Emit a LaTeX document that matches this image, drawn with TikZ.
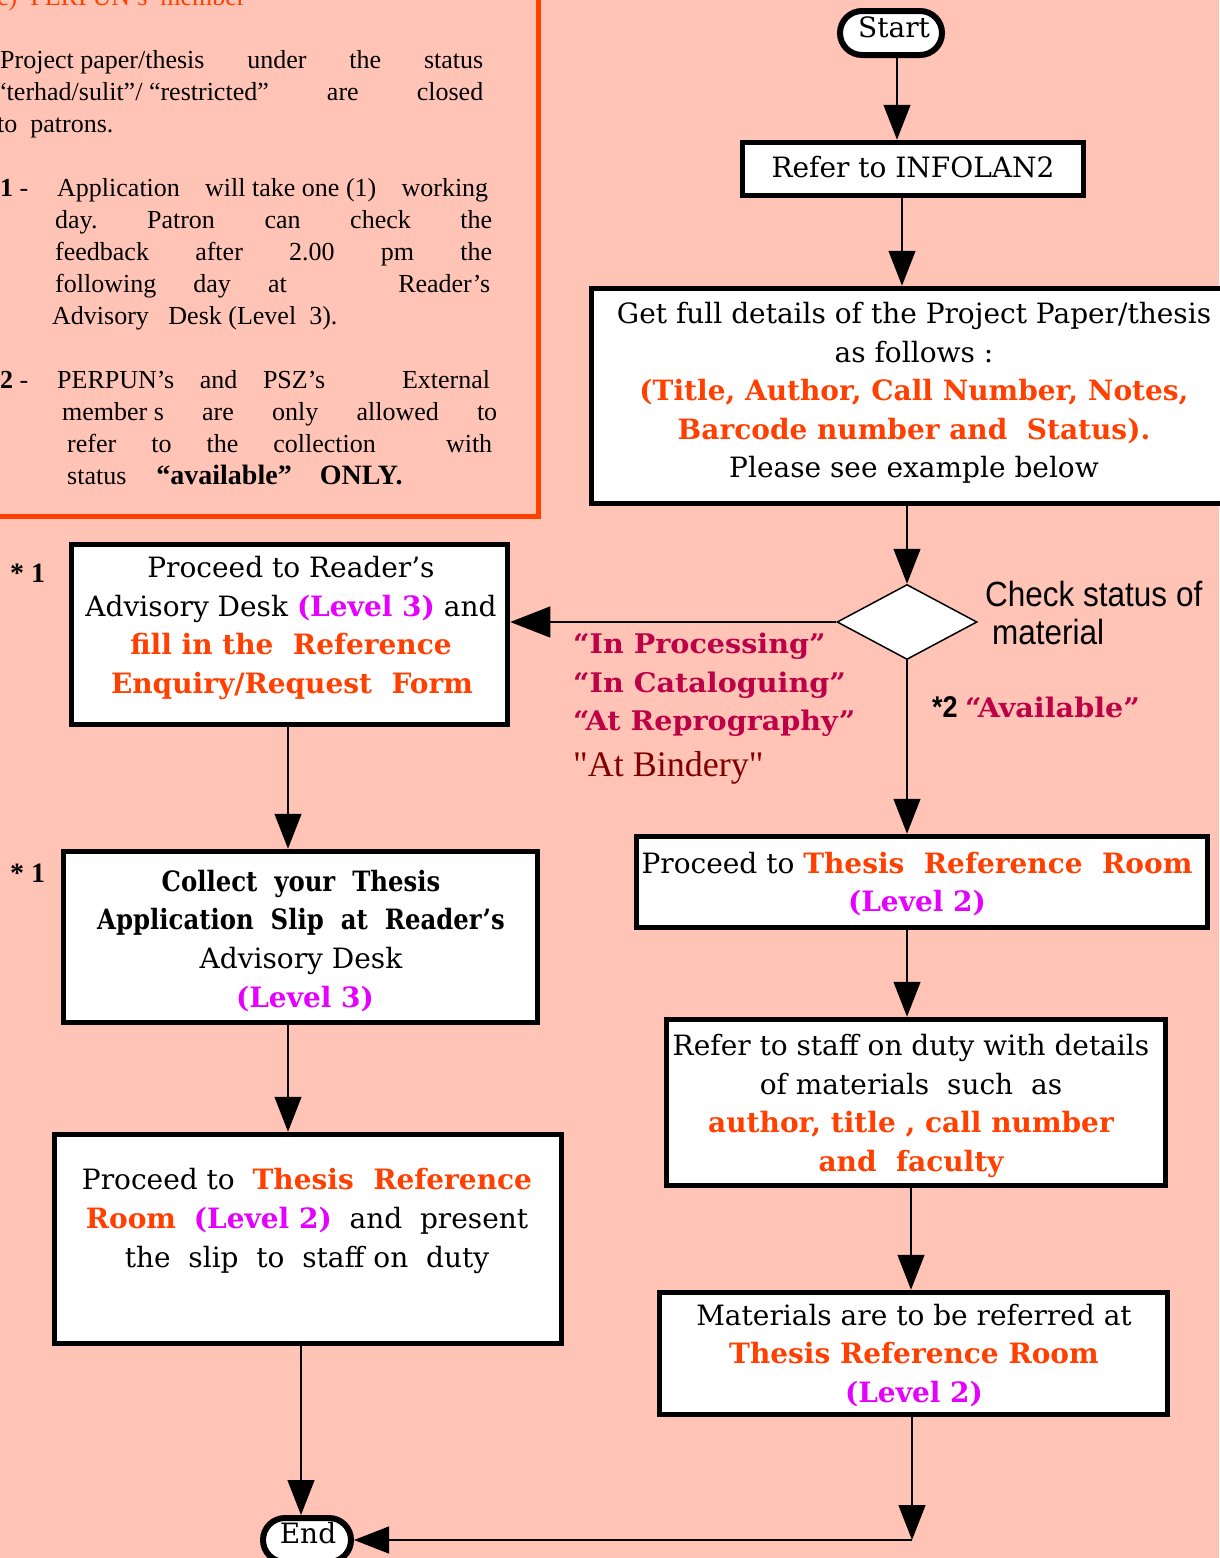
\documentclass[tikz,border=0pt]{standalone}
\usepackage{fontspec}
\usetikzlibrary{arrows.meta,shapes.geometric}
\setmainfont{Liberation Serif}
\newfontfamily\plainserif[Ligatures=ResetAll]{Liberation Serif}
\newfontfamily\slab{DejaVu Serif}
\newfontfamily\slabc[FakeStretch=0.87]{DejaVu Serif}
\newfontfamily\slabw[FakeStretch=1.06]{DejaVu Serif}
\newfontfamily\narrow[FakeStretch=0.9]{Liberation Sans}
\definecolor{bg}{RGB}{255,196,182}
\definecolor{ro}{RGB}{255,64,0}
\definecolor{mg}{RGB}{230,0,255}
\definecolor{cr}{RGB}{190,0,70}
\definecolor{dr}{RGB}{128,0,0}
\newcommand{\redb}[1]{\textcolor{ro}{\bfseries #1}}
\newcommand{\magb}[1]{\textcolor{mg}{\bfseries #1}}
\tikzset{
  box/.style={draw=black,line width=5.5pt,fill=white,inner sep=0pt},
  term/.style={draw=black,line width=6pt,fill=white,inner sep=0pt,rounded corners=22pt},
  dia/.style={diamond,draw=black,line width=1.5pt,fill=white,inner sep=0pt},
  arr/.style={line width=1.3pt,-{Triangle[length=35pt,width=27pt]}},
  bt/.style={anchor=base,inner sep=0pt,font=\fontsize{28}{34}\slab},
  lt/.style={anchor=base west,inner sep=0pt,font=\fontsize{26}{32}\selectfont},
  st/.style={anchor=base west,inner sep=0pt,font=\fontsize{27}{32}\slabw\bfseries,text=cr},
}
\begin{document}
\begin{tikzpicture}[x=1pt,y=-1pt]
\useasboundingbox (0,0) rectangle (1219,1558);
\fill[bg] (0,0) rectangle (1219,1558);
% left info box
\draw[ro,line width=5pt] (-20,-20) rectangle (538,516);
\node[lt,text=ro] (ttl) at (-3,5) {c)\ \ PERPUN’s\ \ member};
\node[lt] (p1) at (0,68) {\hbox to 483pt{Project paper/thesis\hfill under\hfill the\hfill status}};
\node[lt] (p2) at (-5,100) {\hbox to 488pt{“terhad/sulit”/ “restricted”\hfill are\hfill closed}};
\node[lt] (p3) at (-3,132) {to\ \ patrons.};
\node[lt] (n1) at (0,196) {\textbf{1} -};
\node[lt] (a1) at (57,196) {\hbox to 431pt{Application\hfill will take one (1)\hfill working}};
\node[lt] (a2) at (55,228) {\hbox to 437pt{day.\hfill Patron\hfill can\hfill check\hfill the}};
\node[lt] (a3) at (55,260) {\hbox to 437pt{feedback\hfill after\hfill 2.00\hfill pm\hfill the}};
\node[lt] (a4) at (55,292) {\hbox to 435pt{following\hfill day\hfill at\hfill\hfill\hfill Reader’s}};
\node[lt] (a5) at (52,324) {Advisory\ \ \ Desk\ (Level\ \ 3).};
\node[lt] (n2) at (0,388) {\textbf{2} -};
\node[lt] (b1) at (57,388) {\hbox to 433pt{PERPUN’s\hfill and\hfill PSZ’s\hfill\hfill\hfill External}};
\node[lt] (b2) at (62,420) {\hbox to 435pt{member s\hfill are\hfill only\hfill allowed\hfill to}};
\node[lt] (b3) at (67,452) {\hbox to 425pt{refer\hfill to\hfill the\hfill collection\hfill\hfill with}};
\node[lt] (b4) at (67,484) {status\hspace*{30pt}{\fontsize{28}{32}\selectfont\bfseries “available”\hspace*{28pt}ONLY.}};
% right column nodes
\node[term,minimum width=102pt,minimum height=44pt] (start) at (891,33) {};
\node[box,minimum width=341pt,minimum height=53pt] (refer) at (913,169) {};
\node[box,minimum width=631pt,minimum height=215pt] (details) at (907,396) {};
\node[dia,minimum width=140pt,minimum height=75pt] (chk) at (907,622) {};
\node[box,minimum width=571pt,minimum height=91pt] (roomR) at (922,882) {};
\node[box,minimum width=499pt,minimum height=166pt] (staff) at (916,1102.5) {};
\node[box,minimum width=508pt,minimum height=122pt] (mats) at (913.5,1353.5) {};
% left column nodes
\node[box,minimum width=436pt,minimum height=180pt] (desk) at (289.5,634.5) {};
\node[box,minimum width=474pt,minimum height=171pt] (slip) at (300.5,937) {};
\node[box,minimum width=507pt,minimum height=209pt] (roomL) at (308,1239) {};
\node[term,minimum width=88pt,minimum height=44pt] (end) at (307,1540) {};
% column coordinates
\coordinate (c1) at (897,0);
\coordinate (c2) at (902,0);
\coordinate (c3) at (907,0);
\coordinate (c4) at (911,0);
\coordinate (c5) at (912,0);
\coordinate (cL) at (288,0);
\coordinate (cE) at (301,0);
\coordinate (corner) at (912,1540);
% connectors
\draw[arr] (start.south -| c1) -- (refer.north -| c1);
\draw[arr] (refer.south -| c2) -- (details.north -| c2);
\draw[arr] (details.south -| c3) -- (chk.north);
\draw[arr,-{Triangle[length=40pt,width=31pt]}] (chk.west) -- (desk.east |- chk.west);
\draw[arr] (chk.south) -- (roomR.north -| c3);
\draw[arr] (roomR.south -| c3) -- (staff.north -| c3);
\draw[arr] (staff.south -| c4) -- (mats.north -| c4);
\draw[arr] (mats.south -| c5) -- (corner);
\draw[arr] (corner) -- (end.east);
\draw[arr] (desk.south -| cL) -- (slip.north -| cL);
\draw[arr] (slip.south -| cL) -- (roomL.north -| cL);
\draw[arr] (roomL.south -| cE) -- (end.north -| cE);
% texts in boxes
\node[bt] (tstart) at (894,37) {Start};
\node[bt] (trefer) at (913,177) {Refer to INFOLAN2};
\node[bt] (d1) at (914,323) {Get full details of the Project Paper/thesis};
\node[bt] (d2) at (914,362) {as follows :};
\node[bt] (d3) at (914,400) {\redb{(Title, Author, Call Number, Notes,}};
\node[bt] (d4) at (914,439) {\redb{Barcode number and\ \ Status).}};
\node[bt] (d5) at (914,477) {Please see example below};
\node[bt] (k1) at (291,577) {Proceed to Reader’s};
\node[bt] (k2) at (291,616) {Advisory Desk \magb{(Level 3)} and};
\node[bt] (k3) at (291,654) {\redb{fill in the\ \ Reference}};
\node[bt] (k4) at (292,693) {\redb{Enquiry/Request\ \ Form}};
\node[bt,font=\fontsize{28}{34}\slabc\bfseries] (s1) at (301,891) {Collect\ \ your\ \ Thesis};
\node[bt,font=\fontsize{28}{34}\slabc\bfseries] (s2) at (301,929) {Application\ \ Slip\ \ at\ \ Reader’s};
\node[bt] (s3) at (301,968) {Advisory Desk};
\node[bt] (s4) at (305,1007) {\magb{(Level 3)}};
\node[bt] (r1) at (307,1189) {Proceed to\ \ \redb{Thesis\ \ Reference}};
\node[bt] (r2) at (307,1228) {\redb{Room}\ \ \magb{(Level 2)}\ \ and\ \ present};
\node[bt] (r3) at (307,1267) {the\ \ slip\ \ to\ \ staff on\ \ duty};
\node[bt] (q1) at (917,873) {Proceed to \redb{Thesis\ \ Reference\ \ Room}};
\node[bt] (q2) at (917,911) {\magb{(Level 2)}};
\node[bt] (f1) at (911,1055) {Refer to staff on duty with details};
\node[bt] (f2) at (911,1094) {of materials\ \ such\ \ as};
\node[bt] (f3) at (911,1132) {\redb{author, title , call number}};
\node[bt] (f4) at (911,1171) {\redb{and\ \ faculty}};
\node[bt] (m1) at (914,1325) {Materials are to be referred at};
\node[bt] (m2) at (914,1363) {\redb{Thesis Reference Room}};
\node[bt] (m3) at (914,1402) {\magb{(Level 2)}};
\node[bt] (tend) at (308,1543) {End};
% labels
\node[st] (l1) at (573,653) {“In Processing”};
\node[st] (l2) at (573,692) {“In Cataloguing”};
\node[st] (l3) at (573,730) {“At Reprography”};
\node[lt,font=\fontsize{36}{40}\plainserif,text=dr] (l4) at (573,776) {"At Bindery"};
\node[lt,font=\fontsize{35}{40}\narrow] (c1t) at (985,606) {Check status of};
\node[lt,font=\fontsize{35}{40}\narrow] (c2t) at (992,644) {material};
\node[lt,font=\fontsize{30}{34}\narrow\bfseries] (av) at (932,717) {*2 \textcolor{cr}{\slabw\bfseries\fontsize{27}{32}\selectfont “Available”}};
\node[lt,font=\fontsize{28}{34}\selectfont\bfseries] (st1) at (10,582) {*\ 1};
\node[lt,font=\fontsize{28}{34}\selectfont\bfseries] (st2) at (10,882) {*\ 1};
\end{tikzpicture}
\end{document}
